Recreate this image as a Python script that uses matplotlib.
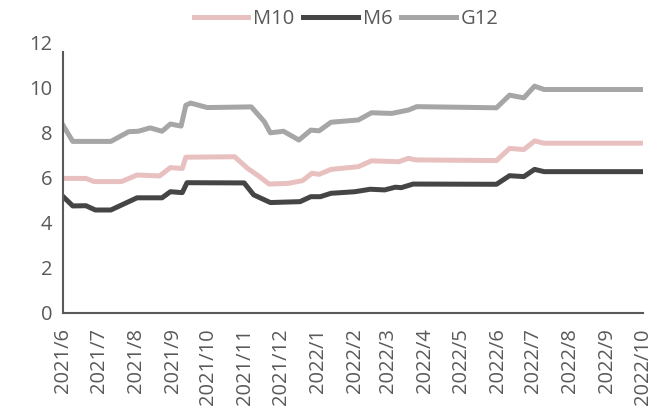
import pandas as pd
import matplotlib.pyplot as plt
import matplotlib.dates as mdates

plt.rcParams['font.family'] = ['Open Sans', 'DejaVu Sans']

# data (turning points of each series)
g12_dates = ['2021-06-01', '2021-06-09', '2021-07-11', '2021-07-26', '2021-08-03', '2021-08-13',
             '2021-08-23', '2021-08-30', '2021-09-08', '2021-09-12', '2021-09-16', '2021-09-30',
             '2021-11-06', '2021-11-17', '2021-11-22', '2021-12-03', '2021-12-16', '2021-12-26',
             '2022-01-02', '2022-01-12', '2022-02-04', '2022-02-15', '2022-03-04', '2022-03-18',
             '2022-03-25', '2022-05-31', '2022-06-11', '2022-06-23', '2022-07-02', '2022-07-10',
             '2022-10-01']
g12_vals = [8.3, 7.6, 7.6, 8.03, 8.05, 8.2,
            8.05, 8.37, 8.28, 9.2, 9.3, 9.1,
            9.13, 8.47, 7.98, 8.05, 7.66, 8.1,
            8.07, 8.45, 8.55, 8.87, 8.84, 8.99,
            9.14, 9.09, 9.65, 9.53, 10.05, 9.9,
            9.9]

m10_dates = ['2021-06-01', '2021-06-20', '2021-06-27', '2021-07-20', '2021-08-02', '2021-08-21',
             '2021-08-30', '2021-09-09', '2021-09-12', '2021-10-23', '2021-11-03', '2021-11-11',
             '2021-11-21', '2021-12-07', '2021-12-19', '2021-12-27', '2022-01-02', '2022-01-12',
             '2022-02-04', '2022-02-15', '2022-03-10', '2022-03-18', '2022-03-24', '2022-05-31',
             '2022-06-11', '2022-06-23', '2022-07-02', '2022-07-10', '2022-10-01']
m10_vals = [5.96, 5.96, 5.82, 5.82, 6.11, 6.07,
            6.44, 6.4, 6.9, 6.92, 6.4, 6.11,
            5.71, 5.74, 5.86, 6.19, 6.14, 6.36,
            6.48, 6.74, 6.7, 6.85, 6.78, 6.75,
            7.29, 7.24, 7.62, 7.52, 7.52]

m6_dates = ['2021-06-01', '2021-06-09', '2021-06-20', '2021-06-28', '2021-07-11', '2021-08-02',
            '2021-08-23', '2021-08-30', '2021-09-09', '2021-09-13', '2021-10-31', '2021-11-08',
            '2021-11-22', '2021-12-17', '2021-12-26', '2022-01-03', '2022-01-12', '2022-02-01',
            '2022-02-14', '2022-02-26', '2022-03-07', '2022-03-12', '2022-03-22', '2022-05-31',
            '2022-06-11', '2022-06-23', '2022-07-02', '2022-07-10', '2022-10-01']
m6_vals = [5.15, 4.74, 4.75, 4.56, 4.56, 5.1,
           5.1, 5.37, 5.33, 5.77, 5.76, 5.23,
           4.89, 4.93, 5.15, 5.15, 5.3, 5.37,
           5.48, 5.45, 5.57, 5.55, 5.71, 5.7,
           6.08, 6.04, 6.36, 6.26, 6.26]

fig = plt.figure(figsize=(6.52, 4.09), dpi=100)
ax = fig.add_axes([0.097, 0.235, 0.889, 0.662])

ax.plot(pd.to_datetime(m10_dates), m10_vals, color='#E9C0C0', lw=3.6, label='M10')
ax.plot(pd.to_datetime(m6_dates), m6_vals, color='#454545', lw=3.6, label='M6')
ax.plot(pd.to_datetime(g12_dates), g12_vals, color='#A6A6A6', lw=3.6, label='G12')

ax.set_ylim(0, 12)
ax.set_yticks(range(0, 13, 2))
ax.set_xlim(pd.Timestamp('2021-06-01'), pd.Timestamp('2022-10-01'))
ax.xaxis.set_major_locator(mdates.MonthLocator())
ax.xaxis.set_major_formatter(mdates.DateFormatter('%Y/%-m'))

for s in ['top', 'right']:
    ax.spines[s].set_visible(False)
for s in ['left', 'bottom']:
    ax.spines[s].set_color('#595959')
    ax.spines[s].set_linewidth(1.5)
ax.spines['left'].set_bounds(0, 11.55)
ax.tick_params(length=0, labelsize=14.5, colors='#595959')
ax.tick_params(axis='x', pad=11)
ax.tick_params(axis='y', pad=8)
plt.setp(ax.get_xticklabels(), rotation=90)

ax.legend(loc='upper center', bbox_to_anchor=(0.488, 1.19), ncol=3, frameon=False,
          fontsize=14.5, handlelength=2.7, columnspacing=0.45, handletextpad=0.25,
          labelcolor='#595959')

fig.savefig('out.png', dpi=100)
